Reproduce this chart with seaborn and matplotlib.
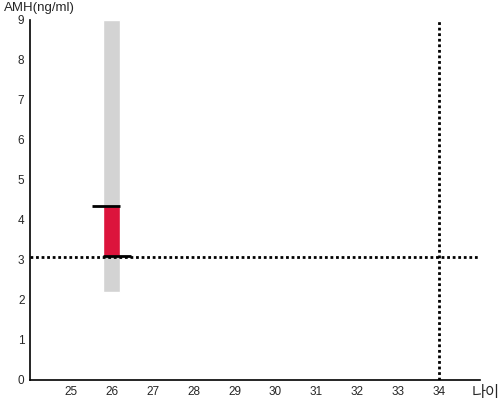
import matplotlib
matplotlib.use("Agg")
import matplotlib.pyplot as plt
import seaborn as sns
import pandas as pd

# 데이터
ages = [26]
range_low = [2.2]
range_high = [9.0]
amh_low = [3.1]
amh_high = [4.35]
x_ticks = [25, 26, 27, 28, 29, 30, 31, 32, 33, 34]
y_ticks = [0, 1, 2, 3, 4, 5, 6, 7, 8, 9]
ref_age = 34
ref_amh = 3.08

sns.set_theme(style="white")
plt.rcParams['font.family'] = ['Liberation Sans', 'Noto Sans CJK KR', 'DejaVu Sans']

df = pd.DataFrame({"age": ages, "lo": range_low, "hi": range_high,
                   "amh_lo": amh_low, "amh_hi": amh_high})

fig = plt.figure(figsize=(5, 4), dpi=100)
ax = fig.add_axes([0.06, 0.05, 0.90, 0.90])

# 회색 범위 막대
ax.bar(df["age"], df["hi"] - df["lo"], bottom=df["lo"], width=0.42,
       color="#d3d3d3", zorder=1)
# 빨간 막대
ax.bar(df["age"], df["amh_hi"] - df["amh_lo"], bottom=df["amh_lo"], width=0.42,
       color="#dc143c", zorder=2)
# 위/아래 가로선
for a, h in zip(df["age"], df["amh_hi"]):
    ax.hlines(h, a - 0.48, a + 0.21, color="black", lw=2, zorder=3)
for a, l in zip(df["age"], df["amh_lo"]):
    ax.hlines(l, a - 0.21, a + 0.48, color="black", lw=2, zorder=3)

ax.axhline(ref_amh, color="black", ls=(0, (1, 1)), lw=2, zorder=4)
ax.axvline(ref_age, color="black", ls=(0, (1, 1)), lw=2, zorder=4)

ax.set_xlim(24, 35)
ax.set_ylim(0, 9)
ax.set_xticks(x_ticks)
ax.set_yticks(y_ticks)
ax.tick_params(axis="both", length=0, labelsize=8.5, pad=4)
sns.despine(ax=ax)
for s in ["left", "bottom"]:
    ax.spines[s].set_color("black")
    ax.spines[s].set_linewidth(1.2)

fig.text(0.008, 0.98, "AMH(ng/ml)", fontsize=9.5, va="center", ha="left")
fig.text(0.943, 0.018, "나이", fontsize=11, va="center", ha="left")

fig.savefig("out.png", dpi=100)
